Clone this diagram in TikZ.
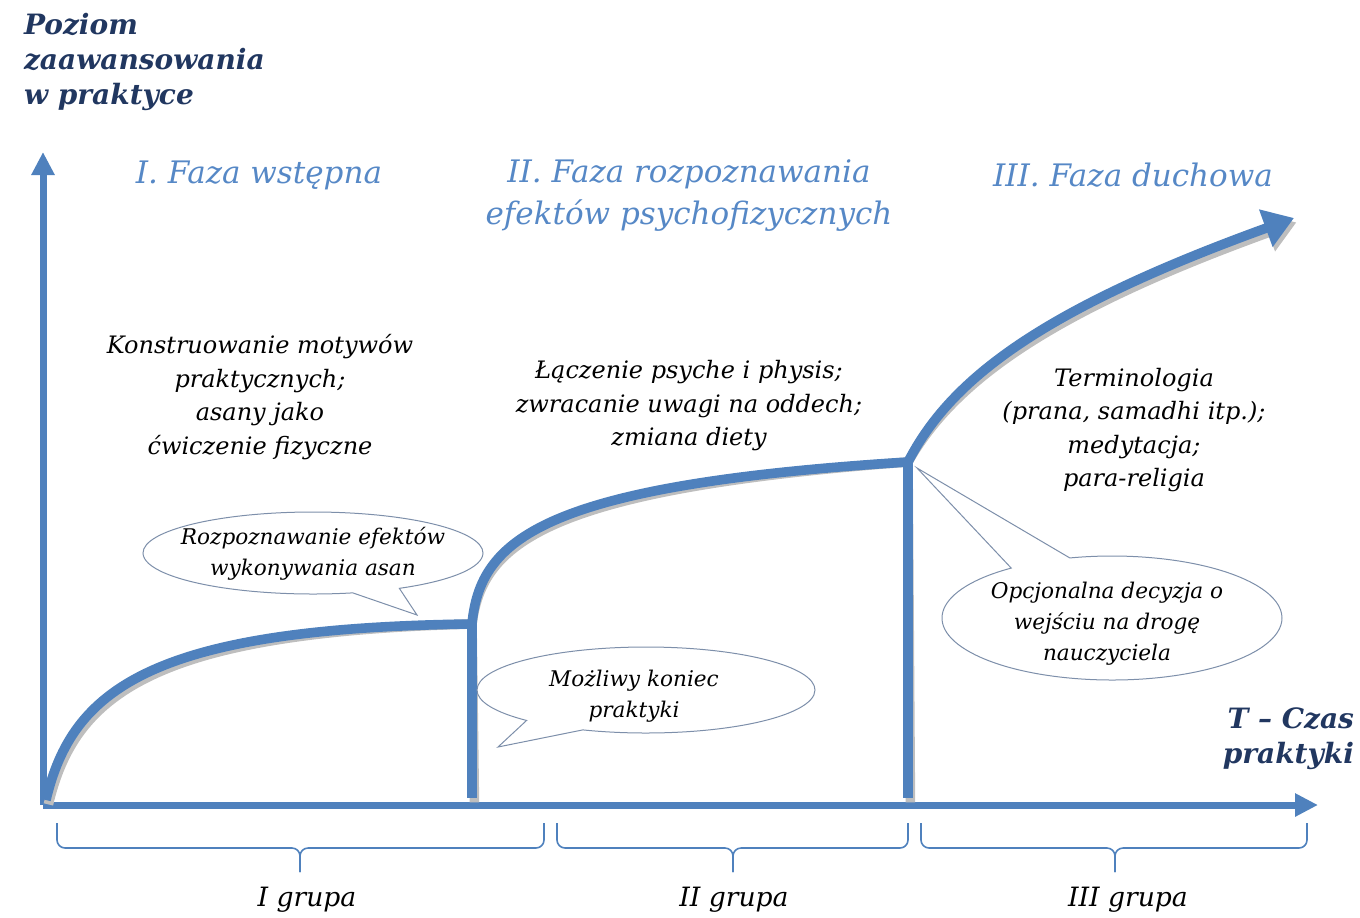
\documentclass[tikz,border=0pt]{standalone}
\usepackage{fontspec}
\setmainfont{DejaVu Serif}
\usetikzlibrary{arrows.meta,shapes.callouts}
\definecolor{lineblue}{RGB}{79,129,189}
\definecolor{phaseblue}{RGB}{86,136,198}
\definecolor{navy}{RGB}{33,55,96}
\definecolor{shade}{RGB}{190,190,190}
\definecolor{rim}{RGB}{125,143,170}
\begin{document}
\begin{tikzpicture}[x=0.5pt,y=-0.5pt,
  axis/.style={draw=lineblue,line width=3.5pt,-{Triangle[length=11.5pt,width=11pt]}},
  curve/.style={draw=lineblue,line width=4.8pt,line join=round},
  curveshade/.style={draw=shade,line width=4.8pt,line join=round,shift={(1.2pt,-2.2pt)}},
  axislabel/.style={text=navy,font=\fontsize{14}{17.5}\selectfont\bfseries\itshape},
  phase/.style={text=phaseblue,font=\fontsize{15.5}{21}\selectfont\itshape,align=center},
  note/.style={font=\fontsize{12}{16.75}\selectfont\itshape,align=center},
  bubble/.style={ellipse callout,draw=rim,line width=0.5pt,fill=white,inner sep=0pt},
  bubbletext/.style={font=\fontsize{10.8}{15.5}\selectfont\itshape,align=center},
  grp/.style={draw=lineblue,line width=0.8pt,rounded corners=4pt}]
\useasboundingbox (0,0) rectangle (1360,917);

\coordinate (o) at (43,805);
\coordinate (j1) at (472,624);
\coordinate (j2) at (908,462);

\draw[axis] (o) -- (43,152);
\draw[axis] (o) -- (1318,805);

\foreach \s in {curveshade,curve}{
  \draw[\s] (j1) -- (472,798);
  \draw[\s] (j2) -- (908,798);
  \draw[\s,-{Triangle[length=15pt,width=19pt]}] (46,800) .. controls (72,690) and (150,628) .. (j1)
    .. controls (480,540) and (540,485) .. (j2)
    .. controls (950,380) and (1040,310) .. (1294,218);
}

\node[axislabel,anchor=west,align=left] (ylab) at (17,62) {Poziom\\zaawansowania\\w praktyce};
\node[axislabel,anchor=east,align=right] (xlab) at (1361,739) {T – Czas\\praktyki};

\node[phase] (f1) at (259,175) {I. Faza wstępna};
\node[phase] (f2) at (689,196) {II. Faza rozpoznawania\\efektów psychofizycznych};
\node[phase] (f3) at (1133,175) {III. Faza duchowa};

\node[note] (n1) at (260,397) {Konstruowanie motywów\\praktycznych;\\asany jako\\ćwiczenie fizyczne};
\node[note] (n2) at (689,406) {Łączenie psyche i physis;\\zwracanie uwagi na oddech;\\zmiana diety};
\node[note] (n3) at (1134,430) {Terminologia\\(prana, samadhi itp.);\\medytacja;\\para-religia};

\node[bubble,minimum width=170pt,minimum height=41pt,
  callout absolute pointer={(417,615)},callout pointer arc=17] (b1) at (313,553) {};
\node[bubbletext] (t1) at (313,554) {Rozpoznawanie efektów\\wykonywania asan};
\node[bubble,minimum width=169pt,minimum height=43pt,
  callout absolute pointer={(498,747)},callout pointer arc=23] (b2) at (646,690) {};
\node[bubbletext] (t2) at (634,696) {Możliwy koniec\\praktyki};
\node[bubble,minimum width=170pt,minimum height=62pt,
  callout absolute pointer={(917,468)},callout pointer arc=22] (b3) at (1112,618) {};
\node[bubbletext] (t3) at (1107,624) {Opcjonalna decyzja o\\wejściu na drogę\\nauczyciela};

\foreach \a/\m/\b/\l/\t in {57/300/544/307/I,557/733/908/734/II,921/1115/1307/1128/III}{
  \draw[grp] (\a,823) |- (\m,848) -- (\m,872);
  \draw[grp] (\b,823) |- (\m,848) -- (\m,872);
  \node[note,font=\fontsize{13.3}{16}\selectfont\itshape] (g\t) at (\l,900) {\t\ grupa};
}
\end{tikzpicture}
\end{document}
